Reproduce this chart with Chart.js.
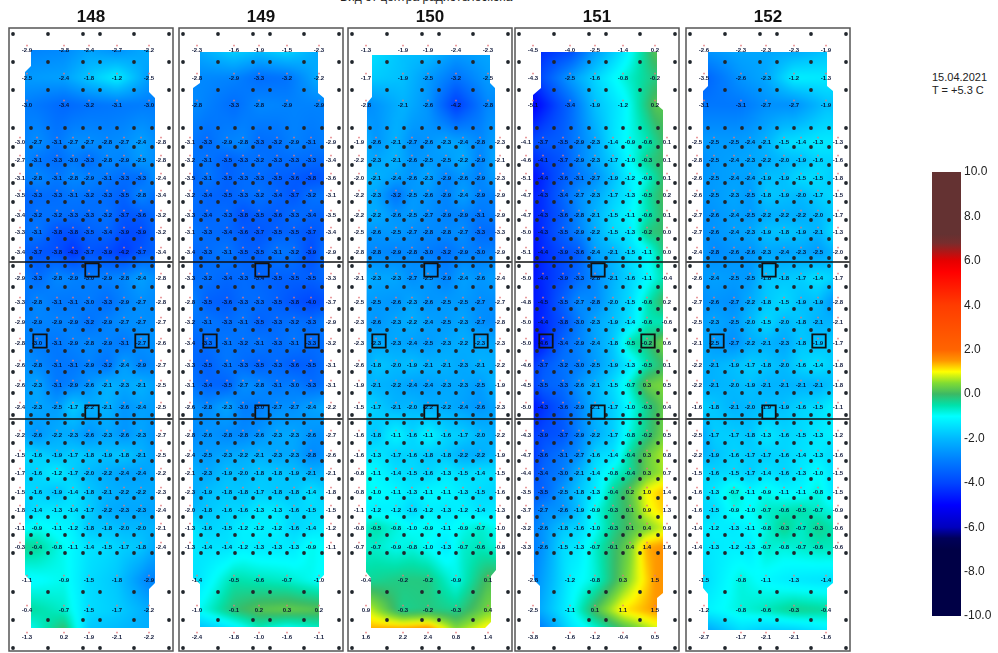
<!DOCTYPE html>
<html>
<head>
<meta charset="utf-8">
<title>Карта</title>
<script src="https://cdn.jsdelivr.net/npm/chart.js@4/dist/chart.umd.min.js"></script>
<style>
    html, body { margin: 0; background: #fff; width: 998px; height: 653px; overflow: hidden; font-family: "Liberation Sans", Arial, sans-serif; }
    canvas { position: absolute; top: 0; }
    .texto { position: absolute; color: #222; white-space: nowrap; }
</style>
</head>
<body>
<div class="texto" style="left:340px; top:-10px; font-size:12px;">Вид от центра радиотелескопа</div>
<div class="texto" style="left:932px; top:71px; font-size:11px; line-height:12.5px;">15.04.2021<br>T = +5.3 C</div>
<canvas id="p148" width="173" height="653" style="left:1px"></canvas>
<canvas id="p149" width="173" height="653" style="left:175px"></canvas>
<canvas id="p150" width="173" height="653" style="left:340px"></canvas>
<canvas id="p151" width="173" height="653" style="left:510px"></canvas>
<canvas id="p152" width="173" height="653" style="left:685px"></canvas>
<canvas id="barra" width="78" height="653" style="left:920px"></canvas>
<script>
// Filas y columnas de las mediciones
const filasValores = [22, 50, 77, 114, 132, 150, 167, 187, 204, 224, 250, 274, 294, 315, 337, 357, 379, 407, 427, 445, 464, 482, 500, 519, 552, 582, 609];
const columnas5 = [18, 55, 80, 108, 140];
const columnas9 = [11, 28, 48, 64, 80, 98, 115, 132, 152];

// Puntos negros de la placa
const filasPuntosBorde = [6, 34, 62, 564, 592, 620];
const columnasPuntosBorde = [4, 39, 74, 91, 125, 160];
const filasPuntos = [100, 119, 137, 155, 174, 192, 211, 230, 238, 259, 281, 302, 323, 344, 365, 387, 395, 415, 433, 451, 470, 489, 507, 525];
const columnasPuntos = [4, 22, 39, 56, 74, 91, 108, 125, 143, 160];

const lineasSector = [234, 391];
const cuadros = [[83, 242], [31, 313], [133, 313], [83, 384]];

const valores148 = [
    [-2.9, -2.8, -2.4, -2.7, -2.2],
    [-2.5, -2.4, -1.8, -1.2, -2.5],
    [-3.0, -3.4, -3.2, -3.1, -3.0],
    [-3.0, -2.7, -3.1, -2.7, -2.7, -2.8, -2.7, -2.4, -2.8],
    [-2.7, -3.1, -3.3, -3.0, -3.3, -2.8, -2.9, -2.5, -2.8],
    [-3.1, -2.8, -3.1, -2.8, -2.9, -3.1, -3.3, -3.3, -2.4],
    [-3.5, -3.3, -3.3, -3.1, -3.2, -3.3, -3.5, -2.8, -3.4],
    [-3.4, -3.2, -3.2, -3.3, -3.3, -3.2, -3.7, -3.6, -3.2],
    [-3.3, -3.1, -3.8, -3.8, -3.5, -3.4, -3.9, -3.9, -3.2],
    [-3.4, -3.7, -3.8, -4.3, -3.7, -3.9, -4.2, -3.7, -3.4],
    [-2.9, -3.3, -2.8, -2.9, -3.0, -2.9, -2.8, -2.4, -2.8],
    [-3.3, -2.8, -3.1, -3.1, -3.0, -3.3, -2.9, -2.7, -2.8],
    [-2.9, -2.9, -2.9, -2.9, -3.2, -2.9, -2.7, -2.7, -2.7],
    [-2.8, -3.0, -3.1, -2.9, -2.8, -2.9, -3.1, -2.7, -2.6],
    [-2.6, -2.8, -3.1, -3.1, -2.9, -3.2, -2.4, -2.9, -2.7],
    [-2.6, -2.3, -3.1, -2.9, -2.6, -2.1, -2.3, -2.1, -2.5],
    [-2.4, -2.3, -2.5, -1.7, -2.2, -2.1, -2.6, -2.4, -2.5],
    [-2.2, -2.6, -2.2, -2.3, -2.6, -2.3, -2.6, -2.3, -2.7],
    [-1.5, -1.6, -1.9, -1.7, -1.8, -1.9, -1.8, -2.1, -2.5],
    [-1.7, -1.6, -1.2, -1.7, -2.0, -2.2, -2.4, -2.4, -2.2],
    [-1.5, -1.6, -1.9, -1.4, -1.8, -2.1, -2.2, -2.2, -2.3],
    [-1.8, -1.4, -1.3, -1.4, -1.7, -2.2, -2.3, -2.3, -2.4],
    [-1.1, -0.9, -1.1, -1.2, -1.8, -1.8, -2.0, -2.0, -2.1],
    [-0.3, -0.4, -0.8, -1.1, -1.4, -1.5, -1.7, -1.8, -2.4],
    [-1.1, -0.9, -1.5, -1.8, -2.9],
    [-0.4, -0.7, -1.5, -1.7, -2.2],
    [-1.3, 0.2, -1.9, -2.1, -2.2]
];
const valores149 = [
    [-2.3, -1.6, -1.9, -1.5, -2.3],
    [-2.8, -2.9, -3.3, -3.2, -2.2],
    [-2.8, -3.3, -2.8, -2.9, -2.9],
    [-3.1, -3.3, -2.9, -2.8, -3.3, -3.2, -2.9, -3.1, -2.9],
    [-3.2, -3.1, -3.5, -3.3, -3.2, -3.3, -3.3, -3.3, -3.4],
    [-3.5, -3.1, -3.5, -3.3, -3.3, -3.5, -3.6, -3.8, -3.6],
    [-3.2, -3.4, -3.5, -3.3, -3.2, -3.4, -3.7, -3.2, -3.1],
    [-3.3, -3.4, -3.3, -3.8, -3.5, -3.6, -3.3, -3.4, -3.5],
    [-3.1, -3.3, -3.4, -3.6, -3.7, -3.5, -3.5, -3.7, -3.4],
    [-3.4, -3.3, -3.1, -3.5, -3.5, -3.1, -3.2, -3.9, -2.9],
    [-3.3, -3.2, -3.4, -3.3, -3.4, -3.5, -3.5, -3.5, -3.3],
    [-2.8, -3.5, -3.6, -3.3, -3.3, -3.5, -3.8, -4.0, -3.7],
    [-3.2, -3.1, -3.3, -3.1, -3.5, -3.3, -3.2, -3.3, -2.9],
    [-3.4, -3.3, -3.1, -3.2, -3.1, -3.3, -3.1, -3.3, -3.2],
    [-3.3, -3.5, -3.1, -3.3, -3.5, -3.3, -3.6, -3.5, -3.1],
    [-3.1, -3.4, -3.5, -2.7, -2.8, -3.1, -3.0, -3.3, -3.1],
    [-2.6, -2.8, -2.3, -3.0, -3.0, -2.7, -2.7, -2.4, -2.2],
    [-2.8, -2.6, -2.8, -2.8, -2.6, -2.3, -2.3, -2.6, -2.7],
    [-2.4, -2.5, -2.3, -2.2, -2.1, -2.3, -2.3, -2.8, -2.6],
    [-2.1, -2.3, -1.9, -2.0, -1.8, -1.8, -1.9, -2.1, -2.1],
    [-2.3, -1.9, -1.8, -1.8, -1.7, -1.8, -1.8, -1.4, -1.8],
    [-2.0, -1.8, -1.6, -1.6, -1.3, -1.3, -1.6, -1.5, -1.5],
    [-1.3, -1.6, -1.5, -1.2, -1.2, -1.2, -1.6, -1.4, -1.2],
    [-1.3, -1.4, -1.4, -1.2, -1.3, -1.3, -1.3, -0.9, -1.1],
    [-1.4, -0.5, -0.6, -0.7, -1.0],
    [-1.0, -0.1, 0.2, 0.3, 0.2],
    [-2.4, -1.8, -1.0, -1.6, -1.1]
];
const valores150 = [
    [-1.3, -1.9, -1.9, -2.4, -2.3],
    [-1.7, -1.9, -2.5, -3.2, -2.5],
    [-2.8, -2.1, -2.6, -4.2, -2.8],
    [-1.9, -2.6, -2.1, -2.7, -2.6, -2.3, -2.4, -2.8, -2.3],
    [-2.2, -2.3, -2.1, -2.6, -2.5, -2.5, -2.2, -2.9, -2.1],
    [-2.0, -2.1, -2.4, -2.6, -2.3, -2.9, -2.6, -2.9, -2.3],
    [-2.2, -2.3, -3.2, -2.5, -2.6, -2.9, -2.4, -2.9, -2.9],
    [-2.2, -2.2, -2.6, -2.5, -2.7, -2.9, -2.9, -3.1, -2.9],
    [-2.5, -2.6, -2.5, -2.7, -2.8, -2.8, -2.7, -3.3, -3.3],
    [-2.8, -2.8, -2.9, -2.8, -3.0, -3.2, -2.9, -3.0, -2.9],
    [-2.1, -2.3, -2.3, -2.7, -2.5, -2.9, -2.4, -2.6, -2.4],
    [-2.5, -2.5, -2.6, -2.3, -2.6, -2.5, -2.5, -2.7, -2.7],
    [-2.3, -2.6, -2.3, -2.2, -2.4, -2.5, -2.3, -2.7, -2.8],
    [-2.3, -2.3, -2.3, -2.4, -2.5, -2.3, -2.2, -2.3, -2.3],
    [-2.6, -1.8, -2.0, -1.9, -2.1, -2.1, -2.3, -2.1, -2.2],
    [-1.9, -2.1, -2.2, -2.4, -2.4, -2.3, -2.3, -2.5, -1.9],
    [-1.5, -1.7, -2.1, -2.0, -2.2, -2.2, -2.4, -2.6, -2.3],
    [-1.6, -1.8, -1.1, -1.6, -1.1, -1.6, -1.7, -2.0, -2.2],
    [-1.6, -1.3, -1.7, -1.6, -1.8, -1.8, -2.2, -2.2, -1.9],
    [-0.8, -1.1, -1.4, -1.5, -1.6, -1.3, -1.5, -1.4, -1.5],
    [-0.8, -1.0, -1.1, -1.3, -1.1, -1.1, -1.3, -1.5, -1.6],
    [-1.1, -1.2, -1.2, -1.6, -1.2, -1.3, -1.2, -1.4, -1.3],
    [-0.8, -0.5, -0.8, -1.0, -0.9, -1.1, -0.9, -0.7, -1.0],
    [-0.7, -0.7, -0.9, -0.8, -1.0, -1.3, -0.7, -0.6, -0.8],
    [-0.4, -0.2, -0.2, -0.9, 0.1],
    [0.9, -0.3, -0.2, -0.3, 0.4],
    [1.6, 2.2, 2.4, 0.8, 1.4]
];
const valores151 = [
    [-4.5, -4.0, -2.5, -1.4, 0.2],
    [-4.3, -2.5, -1.6, -0.8, -0.2],
    [-5.1, -3.4, -1.9, -1.2, 0.2],
    [-4.1, -3.7, -3.5, -2.9, -2.3, -1.4, -0.9, -0.6, 0.1],
    [-4.6, -4.1, -3.7, -2.9, -2.3, -1.7, -1.0, -0.3, 0.1],
    [-5.1, -4.4, -3.6, -3.1, -2.7, -1.9, -1.2, -0.8, 0.1],
    [-4.7, -4.3, -3.4, -2.7, -2.3, -1.7, -1.3, -0.5, 0.2],
    [-4.7, -4.3, -3.6, -2.8, -2.1, -1.5, -1.1, -0.6, 0.1],
    [-5.0, -4.3, -3.5, -2.9, -2.2, -1.5, -1.3, -0.2, 0.0],
    [-5.1, -4.4, -3.9, -3.6, -2.4, -2.1, -1.5, -1.1, 0.0],
    [-5.0, -4.4, -3.9, -3.3, -2.8, -2.1, -1.6, -1.1, -0.4],
    [-4.8, -4.5, -3.5, -2.7, -2.8, -2.0, -1.5, -0.6, 0.2],
    [-5.0, -4.4, -3.8, -3.0, -2.3, -1.9, -1.4, -0.6, -0.6],
    [-5.0, -4.6, -3.4, -2.9, -2.4, -1.8, -0.5, -0.2, 0.6],
    [-4.6, -3.7, -3.2, -3.0, -2.5, -1.9, -1.3, -0.5, 0.1],
    [-4.5, -3.5, -3.3, -2.6, -2.1, -1.5, -0.7, 0.3, 0.5],
    [-5.0, -4.3, -3.6, -2.9, -2.1, -1.7, -1.0, -0.3, 0.4],
    [-4.3, -3.9, -3.7, -2.9, -2.2, -1.7, -0.8, -0.2, 0.5],
    [-4.7, -3.6, -3.1, -2.7, -1.6, -1.4, -0.4, 0.3, 0.8],
    [-4.4, -3.4, -3.0, -2.1, -1.4, -0.8, -0.4, 0.3, 0.7],
    [-3.5, -3.5, -2.5, -1.8, -1.3, -0.4, 0.2, 1.0, 1.4],
    [-3.7, -2.7, -2.6, -1.9, -0.9, -0.3, 0.1, 0.9, 1.3],
    [-3.2, -2.6, -1.8, -1.6, -1.0, -0.3, 0.1, 0.4, 0.9],
    [-3.3, -2.6, -1.5, -1.3, -0.7, -0.1, 0.4, 1.4, 1.6],
    [-2.8, -1.2, -0.8, 0.3, 1.5],
    [-2.5, -1.1, 0.1, 1.1, 1.5],
    [-3.8, -1.6, -1.2, -0.4, 0.5]
];
const valores152 = [
    [-2.6, -2.3, -2.3, -2.3, -1.9],
    [-3.5, -2.6, -2.3, -1.2, -1.3],
    [-3.1, -3.1, -2.7, -2.7, -1.9],
    [-2.5, -2.5, -2.5, -2.4, -2.1, -1.5, -1.4, -1.3, -1.3],
    [-2.8, -2.5, -2.4, -2.3, -2.2, -2.0, -1.9, -1.6, -1.6],
    [-2.6, -2.5, -2.4, -2.4, -1.9, -1.9, -1.5, -1.5, -1.8],
    [-2.6, -2.5, -2.3, -2.5, -1.8, -1.9, -2.0, -1.7, -1.5],
    [-2.7, -2.6, -2.4, -2.5, -2.2, -2.2, -2.2, -2.0, -1.7],
    [-2.7, -2.6, -2.4, -2.3, -1.9, -1.8, -1.9, -2.1, -1.3],
    [-2.4, -2.8, -2.6, -2.6, -2.3, -2.4, -2.3, -2.5, -2.0],
    [-2.6, -2.4, -2.5, -2.5, -1.8, -1.8, -1.7, -1.4, -1.7],
    [-2.7, -2.6, -2.7, -2.2, -1.8, -1.5, -1.9, -1.9, -2.8],
    [-2.5, -2.3, -2.5, -2.0, -1.5, -2.0, -1.8, -2.1, -2.1],
    [-2.1, -2.5, -2.7, -2.2, -2.1, -2.3, -1.8, -1.9, -1.7],
    [-2.2, -2.1, -1.9, -1.7, -1.8, -2.0, -1.6, -1.4, -1.8],
    [-2.2, -2.1, -2.0, -1.9, -2.1, -2.1, -2.1, -2.1, -1.8],
    [-1.6, -1.8, -2.1, -2.0, -1.9, -1.9, -1.6, -1.5, -1.1],
    [-2.5, -1.7, -1.7, -1.8, -1.3, -1.6, -1.5, -1.3, -1.2],
    [-2.2, -1.9, -1.6, -1.7, -1.7, -1.6, -1.4, -1.3, -1.6],
    [-1.5, -1.6, -1.5, -1.7, -1.4, -1.6, -1.3, -1.0, -1.5],
    [-1.6, -1.3, -0.7, -1.1, -0.9, -1.1, -1.1, -0.8, -1.5],
    [-1.6, -1.5, -0.9, -1.0, -0.7, -0.6, -0.5, -0.7, -0.9],
    [-1.4, -1.2, -1.3, -1.1, -0.8, -0.3, -0.7, -0.3, -0.6],
    [-1.4, -1.3, -1.2, -1.3, -0.7, -0.8, -0.7, -0.6, -0.6],
    [-1.5, -0.8, -1.1, -1.3, -1.4],
    [-1.2, -0.8, -0.6, -0.3, -0.4],
    [-2.7, -1.7, -2.1, -2.1, -1.6]
];

// Contorno de cada placa en unidades del eje
const contorno148 = [[22, 22], [140, 22], [140, 64], [146, 70], [146, 555], [140, 561], [140, 600], [22, 600], [22, 553], [16, 547], [16, 44], [22, 38]];
const contorno149 = [[21, 24], [139, 24], [139, 65], [145, 70], [145, 547], [140, 552], [140, 599], [21, 599], [21, 556], [14, 550], [14, 60], [21, 55]];
const contorno150 = [[24, 27], [142, 27], [142, 55], [147, 60], [148, 542], [143, 548], [143, 594], [137, 600], [23, 600], [23, 550], [18, 544], [19, 75], [24, 69]];
const contorno151 = [[26, 24], [142, 24], [142, 77], [148, 82], [148, 565], [142, 570], [142, 599], [25, 599], [25, 558], [19, 552], [18, 67], [26, 60]];
const contorno152 = [[22, 24], [141, 24], [141, 58], [147, 63], [147, 555], [141, 560], [141, 602], [22, 602], [22, 566], [17, 560], [17, 63], [22, 58]];

// Escala de colores
const escalaValores = [-10, -7, -6.5, -6, -5, -4, -3, -2, -1, -0.5, 0, 0.5, 1, 1.5, 2, 4, 5.5, 6, 6.8, 7.2, 10];
const escalaColores = [
    [0, 0, 70], [0, 0, 70], [0, 0, 90], [0, 0, 190], [0, 0, 255], [0, 70, 255], [0, 125, 255], [0, 185, 255], [0, 255, 255],
    [0, 225, 170], [60, 185, 100], [130, 220, 50], [255, 255, 0], [255, 150, 0], [255, 100, 0], [255, 60, 0], [255, 0, 0],
    [230, 0, 0], [120, 45, 45], [100, 50, 50], [100, 50, 50]
];
const marcasBarra = [-10, -8, -6, -4, -2, 0, 2, 4, 6, 8, 10];

function colorDe(v) {
    let i = 0;
    while (i < escalaValores.length - 2 && v > escalaValores[i + 1]) i++;
    const t = Math.min(1, Math.max(0, (v - escalaValores[i]) / (escalaValores[i + 1] - escalaValores[i])));
    return escalaColores[i].map((c, k) => c + (escalaColores[i + 1][k] - c) * t);
}

function columnasDe(fila) {
    return fila.length === 5 ? columnas5 : columnas9;
}

function valorEnFila(fila, x) {
    const cols = columnasDe(fila);
    if (x <= cols[0]) return fila[0];
    for (let i = 0; i < cols.length - 1; i++) {
        if (x <= cols[i + 1]) {
            const t = (x - cols[i]) / (cols[i + 1] - cols[i]);
            return fila[i] + (fila[i + 1] - fila[i]) * t;
        }
    }
    return fila[fila.length - 1];
}

function valorEn(valores, x, y) {
    if (y <= filasValores[0]) return valorEnFila(valores[0], x);
    for (let i = 0; i < filasValores.length - 1; i++) {
        if (y <= filasValores[i + 1]) {
            const t = (y - filasValores[i]) / (filasValores[i + 1] - filasValores[i]);
            return valorEnFila(valores[i], x) * (1 - t) + valorEnFila(valores[i + 1], x) * t;
        }
    }
    return valorEnFila(valores[valores.length - 1], x);
}

// Pinta el campo de temperatura dentro del contorno de la placa
const pluginMapa = {
    id: 'mapa',
    beforeDatasetsDraw(chart, args, opciones) {
        const { ctx, chartArea: area, scales } = chart;
        const w = Math.ceil(area.width), h = Math.ceil(area.height);
        const capa = document.createElement('canvas');
        capa.width = w;
        capa.height = h;
        const capaCtx = capa.getContext('2d');
        const img = capaCtx.createImageData(w, h);
        for (let py = 0; py < h; py++) {
            const y = scales.y.getValueForPixel(area.top + py + 0.5);
            for (let px = 0; px < w; px++) {
                const x = scales.x.getValueForPixel(area.left + px + 0.5);
                const c = colorDe(valorEn(opciones.valores, x, y));
                const k = (py * w + px) * 4;
                img.data[k] = c[0];
                img.data[k + 1] = c[1];
                img.data[k + 2] = c[2];
                img.data[k + 3] = 255;
            }
        }
        capaCtx.putImageData(img, 0, 0);

        ctx.save();
        ctx.beginPath();
        opciones.contorno.forEach(([x, y], i) => {
            const px = scales.x.getPixelForValue(x), py = scales.y.getPixelForValue(y);
            if (i === 0) ctx.moveTo(px, py); else ctx.lineTo(px, py);
        });
        ctx.closePath();
        ctx.clip();
        ctx.filter = 'blur(2px)';
        ctx.drawImage(capa, area.left, area.top);
        ctx.restore();
    },
    afterDatasetsDraw(chart) {
        const { ctx, chartArea: area, scales } = chart;
        const etiquetas = chart.data.datasets.find(d => d.label === 'Valores');
        ctx.save();
        ctx.filter = 'blur(0.4px)';
        ctx.font = 'bold 6px "Liberation Sans"';
        ctx.textAlign = 'center';
        ctx.textBaseline = 'middle';
        ctx.fillStyle = 'rgba(5, 15, 50, 0.95)';
        etiquetas.data.forEach(p => {
            ctx.fillText(p.v.toFixed(1), scales.x.getPixelForValue(p.x), scales.y.getPixelForValue(p.y));
        });
        ctx.restore();
        ctx.save();
        ctx.strokeStyle = '#555';
        ctx.lineWidth = 1.5;
        ctx.strokeRect(area.left, area.top, area.width, area.height);
        ctx.restore();
    }
};

function crearPuntos() {
    const puntos = [];
    filasPuntosBorde.forEach(y => columnasPuntosBorde.forEach(x => puntos.push({ x, y })));
    filasPuntos.forEach(y => columnasPuntos.forEach(x => puntos.push({ x, y })));
    return puntos;
}

function crearEtiquetas(valores) {
    const datos = [];
    valores.forEach((fila, i) => {
        columnasDe(fila).forEach((x, j) => datos.push({ x, y: filasValores[i], v: fila[j] }));
    });
    return datos;
}

// Función para crear el mapa de una placa
function crearPlaca(canvasId, titulo, valores, contorno, margenIzq) {
    const ctx = document.getElementById(canvasId).getContext('2d');
    const etiquetas = crearEtiquetas(valores);
    const lineas = lineasSector.map(y => ({
        type: 'line',
        label: 'Sector',
        data: [{ x: 0, y }, { x: 164, y }],
        borderColor: '#111',
        borderWidth: 1.4,
        pointRadius: 0,
        order: 2
    }));
    return new Chart(ctx, {
        type: 'scatter',
        data: {
            datasets: [
                { label: 'Cuadros', data: cuadros.map(([x, y]) => ({ x, y })), pointStyle: 'rect', pointRadius: 9.5, pointBackgroundColor: 'transparent', pointBorderColor: '#111', pointBorderWidth: 1.8, order: 1 },
                ...lineas,
                { label: 'Puntos', data: crearPuntos(), pointRadius: 1.9, pointBackgroundColor: '#20262c', pointBorderWidth: 0, order: 3 },
                { label: 'Marcas', data: etiquetas.map(p => ({ x: p.x, y: p.y - 4.5 })), pointStyle: 'triangle', pointRadius: 1.3, pointBackgroundColor: '#e2777a', pointBorderWidth: 0, order: 4 },
                { label: 'Valores', data: etiquetas, pointRadius: 0, order: 5 }
            ]
        },
        options: {
            responsive: false,
            animation: false,
            events: [],
            layout: { autoPadding: false, padding: { left: margenIzq, right: 9 - margenIzq, bottom: 2 } },
            scales: {
                x: { type: 'linear', min: 0, max: 164, display: false },
                y: { type: 'linear', min: 0, max: 623, reverse: true, display: false }
            },
            plugins: {
                legend: { display: false },
                tooltip: { enabled: false },
                title: {
                    display: true,
                    text: titulo,
                    color: '#111',
                    font: { family: '"Liberation Sans"', size: 17, weight: 'bold', lineHeight: 1.2 },
                    padding: { top: 7, bottom: 0.6 }
                },
                mapa: { valores, contorno }
            }
        },
        plugins: [pluginMapa]
    });
}

// Función para crear la barra de colores
function crearBarra(canvasId) {
    const ctx = document.getElementById(canvasId).getContext('2d');
    return new Chart(ctx, {
        type: 'bar',
        data: {
            labels: ['T'],
            datasets: [{
                data: [[-10, 10]],
                categoryPercentage: 1,
                barPercentage: 1,
                backgroundColor: context => {
                    const { chartArea, ctx: c } = context.chart;
                    if (!chartArea) return '#000';
                    const g = c.createLinearGradient(0, chartArea.top, 0, chartArea.bottom);
                    escalaValores.forEach((v, i) => {
                        g.addColorStop((10 - v) / 20, `rgb(${escalaColores[i].join(',')})`);
                    });
                    return g;
                }
            }]
        },
        options: {
            responsive: false,
            animation: false,
            events: [],
            layout: { padding: { left: 12, top: 172, bottom: 37 } },
            scales: {
                x: { display: false },
                y: {
                    position: 'right',
                    min: -10,
                    max: 10,
                    afterFit: s => { s.width = 37; },
                    afterBuildTicks: s => { s.ticks = marcasBarra.map(value => ({ value })); },
                    grid: { display: false, drawTicks: false },
                    border: { display: false },
                    ticks: {
                        padding: 3,
                        color: '#222',
                        font: { family: '"Liberation Sans"', size: 12 },
                        callback: v => Number(v).toFixed(1)
                    }
                }
            },
            plugins: { legend: { display: false }, tooltip: { enabled: false } }
        }
    });
}

crearPlaca('p148', '148', valores148, contorno148, 8);
crearPlaca('p149', '149', valores149, contorno149, 4);
crearPlaca('p150', '150', valores150, contorno150, 8);
crearPlaca('p151', '151', valores151, contorno151, 5);
crearPlaca('p152', '152', valores152, contorno152, 1);
crearBarra('barra');
</script>
</body>
</html>
